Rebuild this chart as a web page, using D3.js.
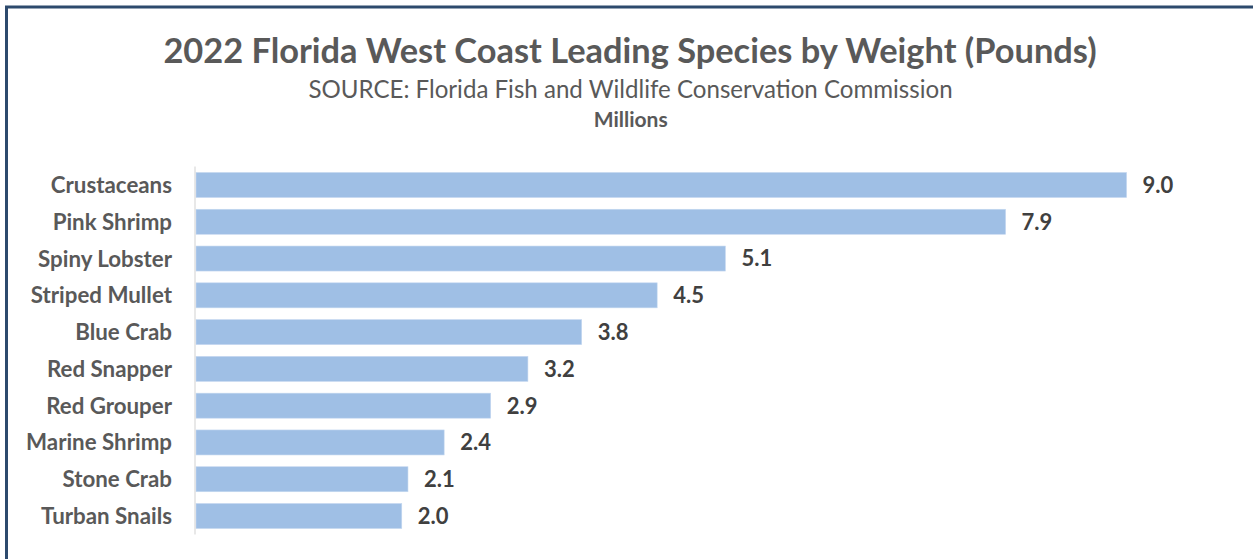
<!DOCTYPE html>
<html>
<head>
<meta charset="utf-8">
<script src="https://cdn.jsdelivr.net/npm/d3@7/dist/d3.min.js"></script>
<style>
  html, body { margin: 0; padding: 0; background: #ffffff; }
  svg { display: block; font-family: Lato, "Open Sans", sans-serif; }
</style>
</head>
<body>
<svg id="chart" width="1253" height="559"></svg>
<script>
// ---- data ----
const categories = ["Crustaceans", "Pink Shrimp", "Spiny Lobster", "Striped Mullet", "Blue Crab",
                    "Red Snapper", "Red Grouper", "Marine Shrimp", "Stone Crab", "Turban Snails"];
const values = [9.00, 7.83, 5.12, 4.46, 3.73, 3.21, 2.85, 2.40, 2.05, 1.99];
const valueLabels = ["9.0", "7.9", "5.1", "4.5", "3.8", "3.2", "2.9", "2.4", "2.1", "2.0"];
const axisDomain = [0, 10];

const titleText = "2022 Florida West Coast Leading Species by Weight (Pounds)";
const subtitleText = "SOURCE: Florida Fish and Wildlife Conservation Commission";
const unitText = "Millions";

// ---- layout ----
const W = 1253, H = 559;
const svg = d3.select("#chart");

svg.append("rect").attr("x", 0).attr("y", 0).attr("width", W).attr("height", H).attr("fill", "#ffffff");

// frame (cropped chart border: top and left edges visible)
svg.append("path")
  .attr("d", `M6.5,${H} L6.5,7 L${W},7`)
  .attr("fill", "none")
  .attr("stroke", "#2d4a6d")
  .attr("stroke-width", 3);

const x = d3.scaleLinear().domain(axisDomain).range([196, 1230]);
const y = d3.scaleBand().domain(categories).range([166.6, 534.4]).paddingInner(0.32).paddingOuter(0.16);

// titles
svg.append("text").attr("x", 630).attr("y", 63).attr("text-anchor", "middle")
  .attr("font-size", 34.4).attr("font-weight", 700).attr("fill", "#595959").text(titleText);
svg.append("text").attr("x", 630.5).attr("y", 98).attr("text-anchor", "middle")
  .attr("font-size", 24.1).attr("font-weight", 400).attr("fill", "#595959").text(subtitleText);
svg.append("text").attr("x", 630.7).attr("y", 127).attr("text-anchor", "middle")
  .attr("font-size", 21).attr("font-weight", 700).attr("fill", "#595959").text(unitText);

// bars
svg.append("g").selectAll("rect").data(categories).join("rect")
  .attr("x", x(0))
  .attr("y", d => y(d))
  .attr("width", (d, i) => x(values[i]) - x(0))
  .attr("height", y.bandwidth())
  .attr("fill", "#9fbfe5")
  .attr("stroke", "#c5d8f0")
  .attr("stroke-width", 0.6);

// y axis (line only, labels)
const yAxis = d3.axisLeft(y).tickSize(0).tickPadding(23);
const ag = svg.append("g").attr("transform", `translate(${x(0) - 1},0)`).call(yAxis);
ag.select(".domain").attr("stroke", "#d9d9d9").attr("stroke-width", 1.2)
  .attr("d", `M0,${y.range()[0]}V${y.range()[1]}`);
ag.selectAll(".tick text")
  .attr("font-family", "Lato, 'Open Sans', sans-serif")
  .attr("font-size", 22.3)
  .attr("font-weight", 700)
  .attr("fill", "#595959")
  .attr("dy", "0.36em");

// value labels
svg.append("g").selectAll("text").data(categories).join("text")
  .attr("x", (d, i) => x(values[i]) + 16)
  .attr("y", d => y(d) + y.bandwidth() / 2)
  .attr("dy", "0.36em")
  .attr("font-size", 22)
  .attr("font-weight", 700)
  .attr("fill", "#404040")
  .text((d, i) => valueLabels[i]);
</script>
</body>
</html>
